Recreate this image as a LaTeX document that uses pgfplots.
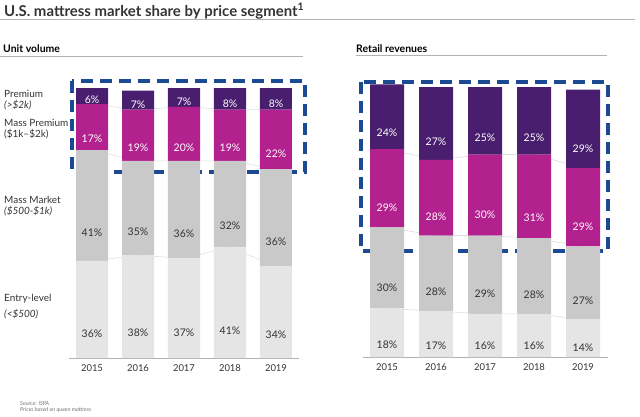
\documentclass[border=0pt]{standalone}
\usepackage{pgfplots}
\pgfplotsset{compat=1.18}
\usepackage{pgfplotstable}
\usepackage{fontspec}
\setmainfont{Lato}

\definecolor{prem}{HTML}{4A1E6E}
\definecolor{mprem}{HTML}{B2218E}
\definecolor{mmkt}{HTML}{C9C9C9}
\definecolor{entry}{HTML}{E5E5E5}
\definecolor{boxblue}{HTML}{1B4A93}
\definecolor{txt}{HTML}{333333}

% unit volume shares (%)
\pgfplotstableread{
x entry mmkt mprem prem
0 36 41 17 6
1 38 35 19 7
2 37 36 20 7
3 41 32 19 8
4 34 36 22 8
}\unitdata

% retail revenue shares (%)
\pgfplotstableread{
x entry mmkt mprem prem
0 18 30 29 24
1 17 28 28 27
2 16 29 30 25
3 16 28 31 25
4 14 27 29 29
}\revdata

% both axes use 2.7bp per percent; the shift below ends up applied twice
\pgfplotsset{
  half height/.code={%
    \pgfkeys{/pgf/fpu=true,/pgf/fpu/output format=fixed}%
    \pgfmathsetmacro\halfh{\pgfplotspointmeta*0.675}%
    \pgfkeys{/pgf/fpu=false}%
  },
  seg/.style n args={2}{
    fill=#1, draw=none,
    nodes near coords={\pgfmathprintnumber{\pgfplotspointmeta}\%},
    every node near coord/.append style={/pgfplots/half height, anchor=center,
      yshift=-\halfh bp, font=\fontsize{10.5}{12}\selectfont, text=#2},
  },
  frame/.style={
    anchor=south west, scale only axis, height=270bp,
    xmin=-0.5, xmax=4.5, ymin=0, ymax=100, clip=false,
  },
  share/.style={
    frame, ybar stacked,
    axis x line*=bottom, hide y axis,
    x axis line style={-, draw=black!30, line width=0.8bp},
    xtick={0,...,4}, xticklabels={2015,2016,2017,2018,2019},
    xtick style={draw=none},
    xticklabel style={font=\fontsize{9.5}{11}\selectfont, text=txt, yshift=-3bp},
    /pgf/number format/assume math mode=true,
  },
  link/.style={draw=black!13, line width=0.6bp, mark=none},
}
\tikzset{dashbox/.style={draw=boxblue, line width=3.5bp, dash pattern=on 12bp off 7bp}}

\begin{document}
\begin{tikzpicture}
\path[use as bounding box] (0,0) rectangle (640bp,-417bp);

% headings
\node[anchor=base west, inner sep=0, text=txt, font=\bfseries\fontsize{15}{18}\selectfont]
  at (4bp,-16bp) {U.S. mattress market share by price segment\textsuperscript{1}};
\draw[black!30, line width=0.8bp] (0,-19.5bp) -- (635bp,-19.5bp);
\node[anchor=base west, inner sep=0, text=black, font=\bfseries\fontsize{10.5}{12}\selectfont]
  at (3bp,-52bp) {Unit volume};
\draw[black!30, line width=0.7bp] (0,-56bp) -- (303bp,-56bp);
\node[anchor=base west, inner sep=0, text=black, font=\bfseries\fontsize{10.5}{12}\selectfont]
  at (356bp,-52bp) {Retail revenues};
\draw[black!30, line width=0.7bp] (356bp,-55bp) -- (607bp,-55bp);

% segment names
\begin{scope}[every node/.style={anchor=base west, inner sep=0, text=txt, font=\fontsize{10}{12}\selectfont}]
\node at (4bp,-97bp) {Premium};
\node at (4bp,-108bp) {\itshape (>\$2k)};
\node at (4bp,-126bp) {Mass Premium};
\node at (4bp,-137bp) {(\$1k–\$2k)};
\node at (4bp,-203bp) {Mass Market};
\node at (4bp,-214bp) {\itshape (\$500-\$1k)};
\node at (4bp,-301bp) {Entry-level};
\node at (4bp,-317bp) {\itshape (<\$500)};
\end{scope}

% source
\node[anchor=base west, inner sep=0, text=black!55, font=\itshape\fontsize{5.5}{6.5}\selectfont]
  at (20bp,-405bp) {Source: ISPA};
\node[anchor=base west, inner sep=0, text=black!55, font=\itshape\fontsize{5.5}{6.5}\selectfont]
  at (20bp,-411.5bp) {Prices based on queen mattress};

% faint links between segment boundaries, drawn under the bars
\begin{axis}[frame, hide axis, at={(69bp,-358bp)}, width=230bp]
\addplot[link] table[x=x, y=entry] {\unitdata};
\addplot[link] table[x=x, y expr=\thisrow{entry}+\thisrow{mmkt}] {\unitdata};
\addplot[link] table[x=x, y expr=\thisrow{entry}+\thisrow{mmkt}+\thisrow{mprem}] {\unitdata};
\end{axis}
\begin{axis}[frame, hide axis, at={(362.5bp,-357bp)}, width=245bp]
\addplot[link] table[x=x, y=entry] {\revdata};
\addplot[link] table[x=x, y expr=\thisrow{entry}+\thisrow{mmkt}] {\revdata};
\addplot[link] table[x=x, y expr=\thisrow{entry}+\thisrow{mmkt}+\thisrow{mprem}] {\revdata};
\end{axis}

\begin{axis}[share, at={(69bp,-358bp)}, width=230bp, bar width=32bp]
\addplot[seg={entry}{txt}] table[x=x, y=entry] {\unitdata};
\addplot[seg={mmkt}{txt}] table[x=x, y=mmkt] {\unitdata};
\addplot[seg={mprem}{white}] table[x=x, y=mprem] {\unitdata};
\addplot[seg={prem}{white}] table[x=x, y=prem] {\unitdata};
\draw[dashbox] (axis cs:-0.43,102.6) rectangle (axis cs:4.63,68.9);
\end{axis}

\begin{axis}[share, at={(362.5bp,-357bp)}, width=245bp, bar width=34bp]
\addplot[seg={entry}{txt}] table[x=x, y=entry] {\revdata};
\addplot[seg={mmkt}{txt}] table[x=x, y=mmkt] {\revdata};
\addplot[seg={mprem}{white}] table[x=x, y=mprem] {\revdata};
\addplot[seg={prem}{white}] table[x=x, y=prem] {\revdata};
\draw[dashbox] (axis cs:-0.53,101.9) rectangle (axis cs:4.51,39.3);
\end{axis}
\end{tikzpicture}
\end{document}
